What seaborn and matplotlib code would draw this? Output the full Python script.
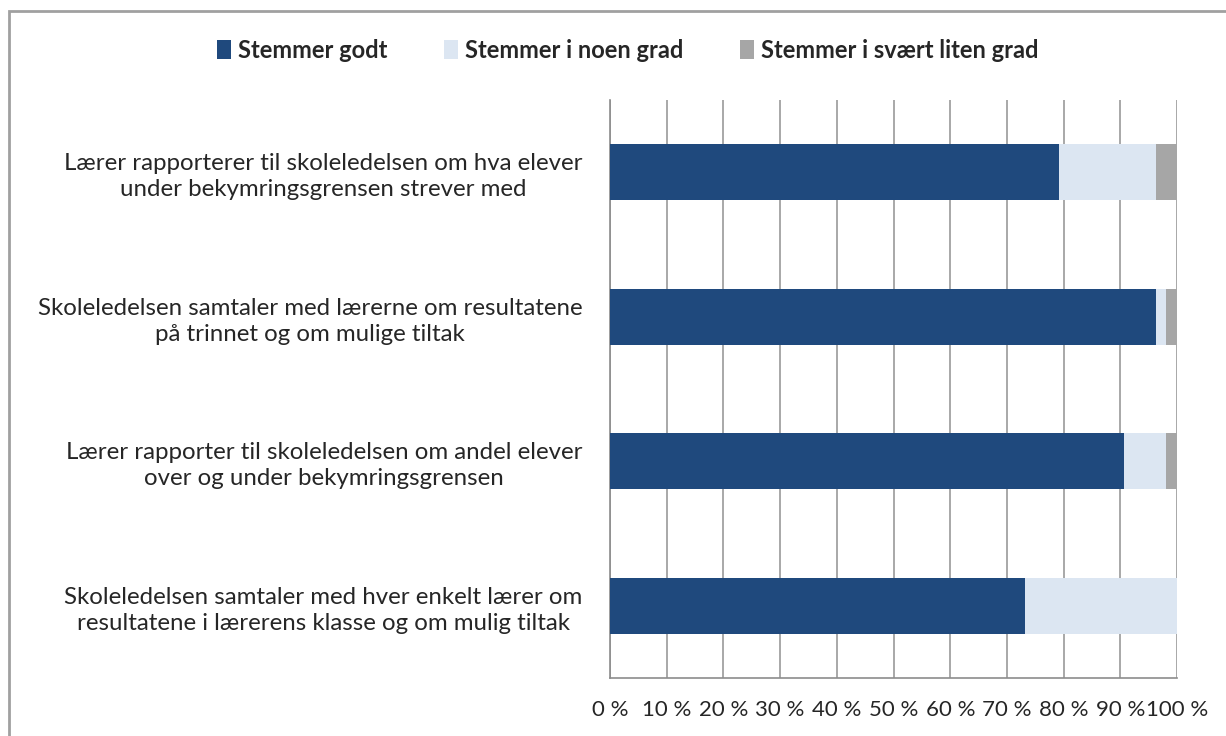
import numpy as np
import pandas as pd
import matplotlib
matplotlib.use("Agg")
import matplotlib.pyplot as plt
import seaborn as sns
from matplotlib.patches import Patch, Rectangle

# survey statements, top to bottom
statements = [
    "Lærer rapporterer til skoleledelsen om hva elever\nunder bekymringsgrensen strever med",
    "Skoleledelsen samtaler med lærerne om resultatene\npå trinnet og om mulige tiltak",
    "Lærer rapporter til skoleledelsen om andel elever\nover og under bekymringsgrensen",
    "Skoleledelsen samtaler med hver enkelt lærer om\nresultatene i lærerens klasse og om mulig tiltak",
]
series_names = ["Stemmer godt", "Stemmer i noen grad", "Stemmer i svært liten grad"]
godt = [79.2, 96.2, 90.6, 73.1]
noen = [17.0, 1.9, 7.5, 26.9]
liten = [3.8, 1.9, 1.9, 0.0]
x_ticks = [0, 10, 20, 30, 40, 50, 60, 70, 80, 90, 100]
x_labels = [f"{v} %" for v in x_ticks]

colors = ["#1F497D", "#DCE6F2", "#A6A6A6"]

df = pd.DataFrame({"statement": statements, "godt": godt, "noen": noen, "liten": liten})
df["cum_noen"] = df["godt"] + df["noen"]
df["cum_liten"] = df["cum_noen"] + df["liten"]

sns.set_theme(style="white")
plt.rcParams["font.family"] = ["Lato", "DejaVu Sans"]

fig = plt.figure(figsize=(12.26, 7.36), dpi=100)
ax = fig.add_axes([0.4976, 0.0788, 0.4625, 0.7853])

# overlay cumulative totals to get stacked bars
for col, c in zip(["cum_liten", "cum_noen", "godt"], colors[::-1]):
    sns.barplot(data=df, x=col, y="statement", orient="h", color=c,
                width=0.39, ax=ax, saturation=1, linewidth=0, zorder=3)

ax.set_xlim(0, 100)
ax.set_ylim(3.5, -0.5)
ax.set_xticks(x_ticks)
ax.set_xticklabels(x_labels, fontsize=16)
ax.set_yticks(range(len(statements)))
ax.set_yticklabels(statements, fontsize=17.3, ha="right", multialignment="center",
                   linespacing=1.3)
ax.tick_params(axis="y", which="major", length=0, pad=20)
ax.set_yticks(np.arange(-0.5, 4, 1), minor=True)
ax.tick_params(axis="y", which="minor", length=10, width=1.2, color="#8C8C8C", direction="out")
ax.tick_params(axis="x", which="major", length=9, width=1.2, color="#8C8C8C", direction="out", pad=7)
ax.set_xlabel("")
ax.set_ylabel("")

ax.grid(axis="x", color="#999999", linewidth=1.2, zorder=0)
ax.set_axisbelow(True)
for s in ["top", "right"]:
    ax.spines[s].set_visible(False)
for s in ["left", "bottom"]:
    ax.spines[s].set_color("#8C8C8C")
    ax.spines[s].set_linewidth(1.2)

handles = [Patch(facecolor=c, edgecolor="none") for c in colors]
fig.legend(handles, series_names, loc="center", bbox_to_anchor=(0.512, 0.932), ncol=3,
           frameon=False, handlelength=0.6, handleheight=0.9, handletextpad=0.3,
           columnspacing=2.4, prop={"weight": "bold", "size": 17})

# outer chart border
fig.patches.append(Rectangle((9 / 1226, -0.1), 1.2, 1.1 - 11 / 736, transform=fig.transFigure,
                             fill=False, edgecolor="#A0A0A0", linewidth=2))

fig.savefig("out.png", dpi=100)
